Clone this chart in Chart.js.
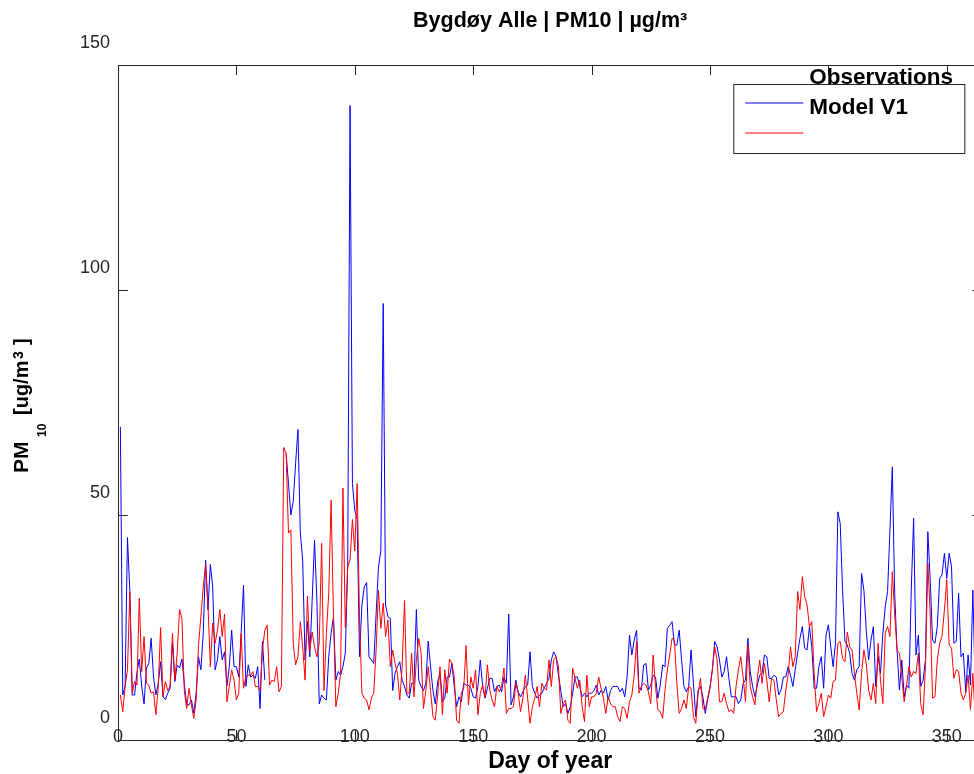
<!DOCTYPE html>
<html>
<head>
<meta charset="utf-8">
<title>Bygdøy Alle | PM10</title>
<script src="https://cdn.jsdelivr.net/npm/chart.js@4.4.1/dist/chart.umd.min.js"></script>
<style>
  html, body { margin: 0; padding: 0; background: #fff; overflow: hidden; }
  canvas { display: block; }
</style>
</head>
<body>
<canvas id="pmChart" width="990" height="774"></canvas>
<script>
// daily PM10, day 1 .. 362 (blue series has no data for day 63-70)
const observations = [
  69.6, 10, 12, 45, 33, 10, 10, 15, 18, 12,
  8, 16, 17, 22.6, 14, 10, 12.6, 17.4, 9.6, 9,
  10.4, 11.5, 21.5, 13, 16.7, 16, 18, 12.6, 7.8, 7.8,
  8.9, 6, 10.4, 18.5, 15.6, 23.7, 40, 29, 39, 34,
  15.6, 17.8, 23, 17.8, 19.6, 12, 16.3, 24.4, 16.3, 16.3,
  14, 23.7, 34.4, 11.9, 16.7, 14, 14.4, 13.7, 16.3, 7,
  21.9, 13.3, null, null, null, null, null, null, null, null,
  63.7, 57, 50, 53, 61.5, 69, 46, 40, 17.8, 26.3,
  18.5, 31, 44.4, 31, 8, 10, 9.3, 8.9, 18.5, 23.7,
  27.4, 13.3, 15.2, 14.4, 16.3, 19.3, 38.5, 141, 57, 51,
  49, 18.5, 30, 34, 35, 18.5, 17.8, 17, 28, 38.5,
  42, 97, 30, 27.4, 27, 11, 14.8, 16.3, 17.4, 13.3,
  11.9, 10, 9.3, 12.6, 12.6, 29, 13.3, 11.9, 11, 12.6,
  22, 16.3, 11, 8, 13, 14.8, 8.5, 9.3, 14, 14,
  17, 11.9, 7.4, 9.6, 8.5, 12.6, 12.2, 12.2, 11.5, 9.6,
  9.3, 11.9, 17.8, 11.9, 9.3, 11.5, 13.7, 13.7, 10.7, 11.9,
  12.2, 10.7, 14, 12.6, 28, 7.8, 9.6, 13.3, 10.7, 9.6,
  10.7, 11.9, 12.2, 19.6, 11.9, 10.4, 9.3, 10, 10.4, 11.5,
  12.6, 13.7, 17.8, 19.6, 18.5, 14.4, 11, 7.4, 8.1, 5.9,
  7.4, 10.4, 14, 14, 11.9, 9.6, 10.4, 9.6, 10.4, 10.4,
  11, 12.2, 10, 11, 10.4, 11.9, 8.9, 11, 11.9, 11.9,
  11.9, 10.7, 11.5, 9.6, 14, 23.3, 18.9, 22.2, 24.4, 11.5,
  11.1, 16.7, 17, 11.1, 12.2, 14.4, 14, 9.3, 12.2, 16.7,
  16.3, 24.8, 25.5, 26.3, 21.1, 21.1, 24.4, 17.8, 11.9, 10.7,
  11.9, 20, 12.6, 5.2, 11.1, 11.9, 9.6, 5.9, 8.9, 11.5,
  15.6, 21.9, 20.7, 17.8, 14, 15.2, 18.5, 13.7, 9.6, 9.6,
  9.6, 8.1, 8.9, 12.6, 13.3, 22.6, 15.2, 11.9, 9.6, 12.2,
  14.4, 14.8, 18.9, 18.5, 13.7, 13.7, 14.4, 14, 10, 11.1,
  14, 14, 16.3, 14.4, 11.9, 15.6, 19.3, 22.6, 25.2, 20.4,
  20, 25.2, 20.7, 11.5, 11.5, 16.3, 18.5, 11.5, 23.3, 25.6,
  20.7, 16.3, 21.5, 50.7, 48.1, 33.3, 21.9, 21.1, 19.3, 14.8,
  13.3, 15.6, 16.3, 37, 33.3, 24.4, 17.8, 22.2, 25.2, 11.9,
  18.5, 14.8, 23.7, 29.6, 33, 46.7, 60.7, 32.6, 20, 11.1,
  17.8, 9.6, 12.2, 11.5, 33.3, 49.3, 18.9, 23.3, 11.9, 13.3,
  17.8, 46.3, 35.6, 22.2, 21.5, 25.2, 35.9, 36.7, 41.5, 35.9,
  41.5, 38.5, 21.5, 21.9, 32.6, 18.5, 19.3, 10.7, 18.9, 12.2,
  33.3, 11.9
];

const modelV1 = [
  10, 6.3, 11.9, 15.6, 33, 10.4, 13, 12.2, 31.5, 15.2,
  23, 12.6, 12.2, 10.4, 10.7, 5.6, 11.9, 25, 9.6, 13,
  11, 11.9, 23.7, 13.3, 19.3, 29, 27, 11, 7, 11.5,
  7.8, 4.8, 8.9, 21, 27.4, 34, 39, 30, 16.3, 26,
  21.5, 24.4, 29, 23, 28, 8.5, 11.9, 15.6, 13.3, 8.9,
  10.4, 23.7, 11.5, 14, 14.4, 14.4, 15.2, 11.9, 11.9, 11,
  20, 24.4, 25.5, 12.2, 13.3, 13, 16.3, 10.7, 11.9, 65,
  63.7, 46, 46.7, 21.5, 16.7, 18.5, 26.3, 20.7, 13.3, 32,
  20, 24, 20.7, 18.5, 21.5, 43.7, 11, 23.7, 32.6, 53.3,
  27.4, 7.4, 10.4, 14.8, 56, 25, 38.5, 40, 49, 42,
  57, 26.7, 10.4, 9.3, 8.9, 6.7, 9.3, 10.4, 20, 33.3,
  24.8, 30.4, 23, 26.7, 16.3, 20, 17, 14.8, 8.9, 16.3,
  31, 10.4, 10.4, 19.3, 9.6, 17.8, 22.6, 19.3, 7, 11,
  16.3, 11, 5.2, 4.4, 10, 16.3, 5.6, 15.6, 10.4, 18,
  17, 14, 4.4, 3.7, 10.4, 11.5, 21, 7.8, 14, 11.5,
  15.6, 5.6, 10.4, 12.2, 9.6, 16.7, 11.1, 8.9, 7.4, 11.9,
  10.7, 11.9, 16, 5.9, 7, 7, 7.4, 12.6, 10.4, 6.3,
  9.3, 14.4, 9.3, 3.7, 7.4, 9.3, 11.9, 7.4, 12.6, 11.5,
  11.1, 17.8, 11.9, 17.8, 18.5, 16.3, 5.9, 8.1, 8.9, 4.4,
  3.7, 16, 13.7, 11.5, 13.3, 7.4, 4.1, 14.4, 7.4, 9.6,
  9.6, 10.4, 14, 11.5, 9.3, 5.9, 9.6, 8.1, 7.4, 7.4,
  5.2, 4.1, 7.4, 7, 4.8, 8.5, 10, 14.4, 21.9, 10.4,
  11.9, 12.6, 12.2, 10.7, 8.1, 18.9, 11.9, 6.7, 6.3, 4.8,
  11.1, 15.6, 18.9, 22.6, 22.2, 12.6, 5.9, 7, 8.9, 7,
  11.9, 11.5, 5.2, 3.7, 10.4, 13.7, 7, 6.7, 9.3, 11.9,
  15.6, 20.7, 17.8, 8.5, 8.5, 10.4, 8.1, 6.3, 6.7, 5.9,
  11.9, 15.6, 18.5, 14, 8.5, 21.1, 11.9, 9.6, 7.8, 13.7,
  17.8, 12.6, 17, 13.3, 8.5, 13.7, 13.3, 8.9, 5.2, 5.9,
  6.3, 11.1, 14.4, 20.7, 16.3, 18.5, 33, 29, 36.3, 31.9,
  30, 25.2, 26.3, 14.8, 6.3, 8.1, 10.4, 5.2, 7.4, 10,
  9.3, 13, 13.3, 21.5, 21.9, 18.1, 17.4, 24, 20.7, 20,
  14.8, 10.4, 6.7, 14.8, 20, 17, 11.1, 8.9, 12.6, 8.1,
  21.5, 13.3, 8.1, 23.7, 25.2, 23, 37.4, 28, 20, 19.3,
  14, 8.5, 11.9, 16.3, 14, 15.2, 14.8, 19.3, 8.1, 5.6,
  16.3, 39.3, 28, 9.3, 9.6, 17.8, 21.5, 23, 28.9, 35.6,
  21.1, 20.4, 13.7, 15.6, 15.2, 10.4, 8.9, 10.4, 14.4, 6.7,
  14.8, 5.2
];

const xTicks = [0, 50, 100, 150, 200, 250, 300, 350];
const yTicks = [0, 50, 100, 150];
const legendLabels = ['Observations', 'Model V1'];
const seriesColors = ['#0000ff', '#ff0000'];

const days = observations.map((_, i) => i + 1);

const AXIS_COLOR = '#262626';
const FONT = '"Liberation Sans", Arial, Helvetica, sans-serif';

// matlab style box, inward ticks, legend and the labels
const matlabDecor = {
  id: 'matlabDecor',
  afterDraw(chart) {
    const {ctx, chartArea: a, scales: {x, y}} = chart;
    ctx.save();

    // x tick labels sit on top of the axis line, like the original
    ctx.fillStyle = AXIS_COLOR;
    ctx.font = '18px ' + FONT;
    ctx.textAlign = 'center';
    ctx.textBaseline = 'middle';
    xTicks.forEach(v => ctx.fillText(String(v), x.getPixelForValue(v), a.bottom - 2.5));

    ctx.strokeStyle = AXIS_COLOR;
    ctx.lineWidth = 1;
    ctx.beginPath();
    ctx.moveTo(a.left, a.top + 0.5);
    ctx.lineTo(a.right, a.top + 0.5);
    ctx.moveTo(a.right - 0.5, a.top);
    ctx.lineTo(a.right - 0.5, a.bottom);
    xTicks.forEach(v => {
      const px = Math.round(x.getPixelForValue(v)) + 0.5;
      ctx.moveTo(px, a.top);
      ctx.lineTo(px, a.top + 10);
      ctx.moveTo(px, a.bottom);
      ctx.lineTo(px, a.bottom - 10);
    });
    yTicks.forEach(v => {
      const py = Math.round(y.getPixelForValue(v)) + 0.5;
      ctx.moveTo(a.left, py);
      ctx.lineTo(a.left + 10, py);
      ctx.moveTo(a.right, py);
      ctx.lineTo(a.right - 10, py);
    });
    ctx.stroke();

    // legend box
    const lx = a.right - 249, ly = a.top + 19;
    ctx.fillStyle = '#fff';
    ctx.fillRect(lx, ly, 231, 69);
    ctx.strokeRect(lx + 0.5, ly + 0.5, 231, 69);
    [0, 1].forEach(i => {
      ctx.strokeStyle = seriesColors[i];
      ctx.beginPath();
      ctx.moveTo(lx + 12, ly + 19 + i * 30);
      ctx.lineTo(lx + 70, ly + 19 + i * 30);
      ctx.stroke();
    });
    ctx.fillStyle = '#000';
    ctx.font = 'bold 22.5px ' + FONT;
    ctx.textAlign = 'left';
    ctx.textBaseline = 'alphabetic';
    ctx.fillText(legendLabels[0], lx + 76, ly);
    ctx.fillText(legendLabels[1], lx + 76, ly + 30);

    // title + x label
    const cx = (a.left + a.right) / 2;
    ctx.textAlign = 'center';
    ctx.font = 'bold 21.5px ' + FONT;
    ctx.fillText('Bygdøy Alle | PM10 | µg/m³', cx, 27);
    ctx.font = 'bold 23px ' + FONT;
    ctx.fillText('Day of year', cx, 768);

    // y label with sub/superscript
    ctx.translate(28, 473);
    ctx.rotate(-Math.PI / 2);
    ctx.textAlign = 'left';
    ctx.font = 'bold 21px ' + FONT;
    ctx.fillText('PM', 0, 0);
    ctx.font = 'bold 12px ' + FONT;
    ctx.fillText('10', 36, 18);
    ctx.font = 'bold 20px ' + FONT;
    ctx.fillText('[ug/m', 58, 0);
    ctx.font = 'bold 14px ' + FONT;
    ctx.fillText('3', 114, -5);
    ctx.font = 'bold 20px ' + FONT;
    ctx.fillText(']', 128, 0);

    ctx.restore();
  }
};

new Chart(document.getElementById('pmChart'), {
  type: 'line',
  data: {
    labels: days,
    datasets: [
      {
        label: legendLabels[0],
        data: observations,
        borderColor: seriesColors[0],
        borderWidth: 1,
        pointRadius: 0,
        spanGaps: false,
        order: 2
      },
      {
        label: legendLabels[1],
        data: modelV1,
        borderColor: seriesColors[1],
        borderWidth: 1,
        pointRadius: 0,
        order: 1
      }
    ]
  },
  options: {
    responsive: false,
    animation: false,
    layout: {padding: {top: 65, right: 7.7, left: 0, bottom: 0}},
    plugins: {legend: {display: false}, tooltip: {enabled: false}, title: {display: false}},
    scales: {
      x: {
        type: 'linear',
        min: xTicks[0],
        max: 365,
        afterFit: s => { s.height = 34; },
        grid: {display: false, drawTicks: false},
        border: {display: true, color: AXIS_COLOR, width: 1},
        ticks: {stepSize: 50, includeBounds: false, display: false}
      },
      y: {
        min: yTicks[0],
        max: yTicks[yTicks.length - 1],
        afterFit: s => { s.width = 118; },
        grid: {display: false, drawTicks: false},
        border: {display: true, color: AXIS_COLOR, width: 1},
        ticks: {
          stepSize: 50,
          padding: 8,
          labelOffset: -22,
          color: AXIS_COLOR,
          font: {family: FONT, size: 18}
        }
      }
    }
  },
  plugins: [matlabDecor]
});
</script>
</body>
</html>
